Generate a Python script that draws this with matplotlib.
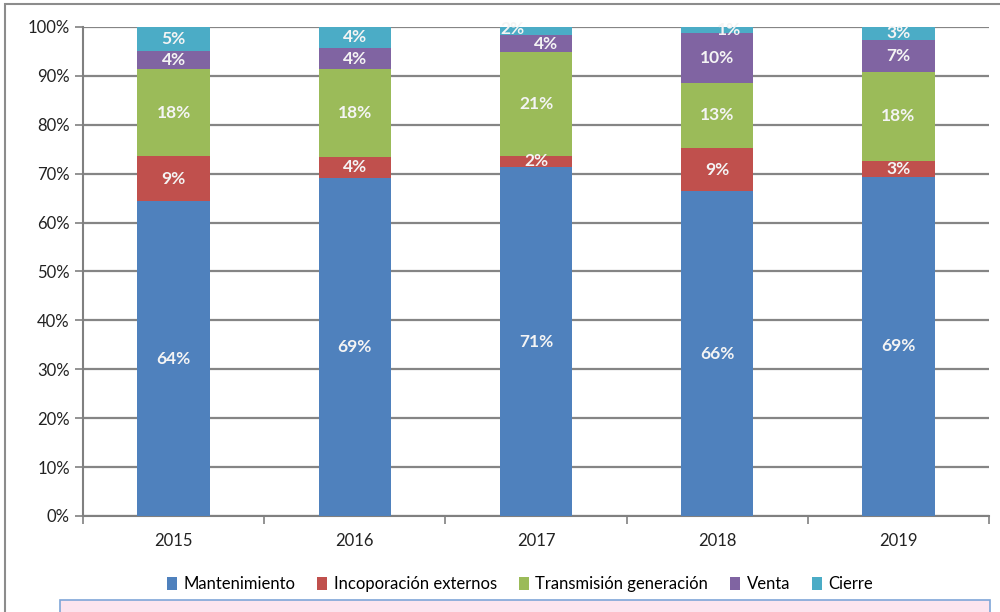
import matplotlib
matplotlib.use("Agg")
import matplotlib.pyplot as plt
from matplotlib.patches import Rectangle
from matplotlib.ticker import FuncFormatter, FixedLocator
import numpy as np

years = ["2015", "2016", "2017", "2018", "2019"]
series_names = ["Mantenimiento", "Incoporación externos", "Transmisión generación", "Venta", "Cierre"]
mantenimiento = [64.3, 69.2, 71.3, 66.4, 69.4]
incorporacion = [9.4, 4.2, 2.4, 8.8, 3.2]
transmision = [17.6, 17.9, 21.1, 13.4, 18.2]
venta = [3.7, 4.4, 3.6, 10.2, 6.6]
cierre = [5.0, 4.3, 1.6, 1.2, 2.6]
yticks = [0, 10, 20, 30, 40, 50, 60, 70, 80, 90, 100]

colors = ["#4F81BD", "#C0504D", "#9BBB59", "#8064A2", "#4BACC6"]
series = [mantenimiento, incorporacion, transmision, venta, cierre]

# label nudges (series index, year index) -> (dx, dy) in data units
nudges = {(4, 2): (-0.13, 0.3), (3, 2): (0.055, 0.0), (4, 3): (0.065, 0.0)}

plt.rcParams['font.family'] = ['Lato', 'DejaVu Sans']

fig = plt.figure(figsize=(10, 6.12), dpi=100)
ax = fig.add_axes([0.083, 0.157, 0.906, 0.799])

x = np.arange(len(years))
bottom = np.zeros(len(years))
for si, (name, vals, col) in enumerate(zip(series_names, series, colors)):
    vals = np.array(vals)
    ax.bar(x, vals, 0.4, bottom=bottom, color=col, label=name, zorder=3)
    for yi, (xi, b, v) in enumerate(zip(x, bottom, vals)):
        dx, dy = nudges.get((si, yi), (0, 0))
        ax.text(xi + dx, b + v / 2 + dy, f"{int(round(v))}%", ha="center", va="center",
                color="#F4F4F4", fontsize=12.5, fontweight="bold", zorder=4)
    bottom += vals

ax.set_xlim(-0.5, len(years) - 0.5)
ax.set_ylim(0, 100)
ax.set_yticks(yticks)
ax.yaxis.set_major_formatter(FuncFormatter(lambda v, p: f"{int(v)}%"))
ax.set_xticks(x)
ax.set_xticklabels(years)
ax.xaxis.set_minor_locator(FixedLocator(np.arange(-0.5, len(years), 1.0)))
ax.tick_params(axis="x", which="major", length=0, labelsize=12, pad=12, colors="#222222")
ax.tick_params(axis="x", which="minor", length=6, color="#808080", width=1.2)
ax.tick_params(axis="y", length=6, color="#808080", width=1.2, labelsize=12, colors="#222222")
ax.grid(axis="y", color="#858585", linewidth=1.6, zorder=0)
for s in ["top", "right"]:
    ax.spines[s].set_visible(False)
for s in ["left", "bottom"]:
    ax.spines[s].set_color("#808080")
    ax.spines[s].set_linewidth(1.5)

leg = fig.legend(loc="center", bbox_to_anchor=(0.52, 0.045), ncol=5, frameon=False,
                 fontsize=12, handlelength=0.6, handleheight=0.8, handletextpad=0.4,
                 columnspacing=1.3)

# outer frame
fig.patches.append(Rectangle((0.005, -0.1), 1.2, 1.093, transform=fig.transFigure,
                             fill=False, edgecolor="#8C8C8C", linewidth=1.5))
# pink box at bottom
fig.patches.append(Rectangle((0.06, -0.05), 0.93, 0.07, transform=fig.transFigure,
                             facecolor="#FCE4EE", edgecolor="#7FA6D8", linewidth=1.2))

fig.savefig("out.png", dpi=100)
